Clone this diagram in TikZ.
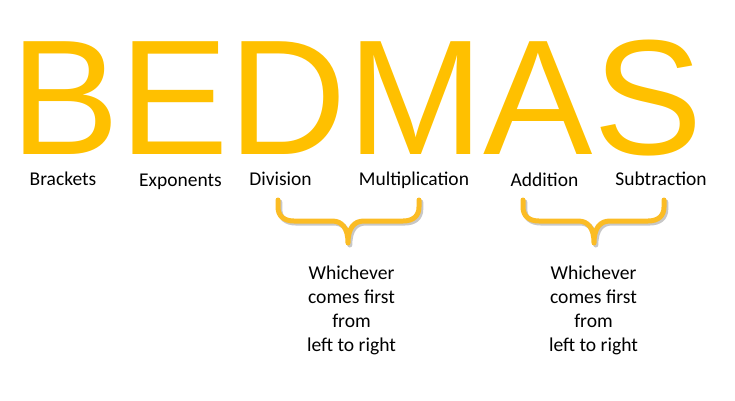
\documentclass[tikz,border=0pt]{standalone}
\usepackage{fontspec}
\setmainfont{Carlito}
\newfontfamily\bigfont{Liberation Sans}
\definecolor{gold}{HTML}{FFC000}
\definecolor{bracegold}{HTML}{FBBC24}
\begin{document}
\begin{tikzpicture}[x=1pt,y=-1pt,
  bigword/.style={inner sep=0pt, anchor=base west, text=gold, text depth=0pt,
    font=\bigfont\fontsize{164pt}{164pt}\selectfont},
  term/.style={inner sep=0pt, anchor=base, font=\fontsize{19.5pt}{23.4pt}\selectfont},
  note/.style={inner sep=0pt, anchor=north, align=center,
    font=\fontsize{19.6pt}{24.2pt}\selectfont},
  bracestroke/.style={draw=bracegold, line width=5pt, line cap=round, line join=round},
  braceshadow/.style={draw=black!22, line width=5pt, line cap=round, line join=round}]
\useasboundingbox (0,0) rectangle (735,400);

% the acronym
\node[bigword] (word) at (10,154) {BEDMAS};

% what each letter stands for
\node[term] (brackets) at (63,185) {Brackets};
\node[term] (exponents) at (180.5,186) {Exponents};
\node[term] (division) at (280.5,185) {Division};
\node[term] (multiplication) at (414,185) {Multiplication};
\node[term] (addition) at (544.5,186) {Addition};
\node[term] (subtraction) at (661,185) {Subtraction};

% curly braces grouping the pairs
\newcommand{\bracepath}[3]{% left x, mid x, right x
  (#1,200) -- (#1,207) .. controls (#1,216) and (#1+6,221) .. (#1+16,221)
  -- (#2-16,221) .. controls (#2-6,221) and (#2,228) .. (#2,243)
  .. controls (#2,228) and (#2+6,221) .. (#2+16,221)
  -- (#3-16,221) .. controls (#3-6,221) and (#3,216) .. (#3,207) -- (#3,200)}
\draw[braceshadow, shift={(1.8,2)}] \bracepath{278}{348}{419};
\draw[bracestroke] \bracepath{278}{348}{419};
\draw[braceshadow, shift={(1.8,2)}] \bracepath{523}{594}{664};
\draw[bracestroke] \bracepath{523}{594}{664};

% notes under the braces
\node[note] (noteDM) at (351.5,265.5) {Whichever\\comes first\\from\\left to right};
\node[note] (noteAS) at (593.5,265.5) {Whichever\\comes first\\from\\left to right};
\end{tikzpicture}
\end{document}
